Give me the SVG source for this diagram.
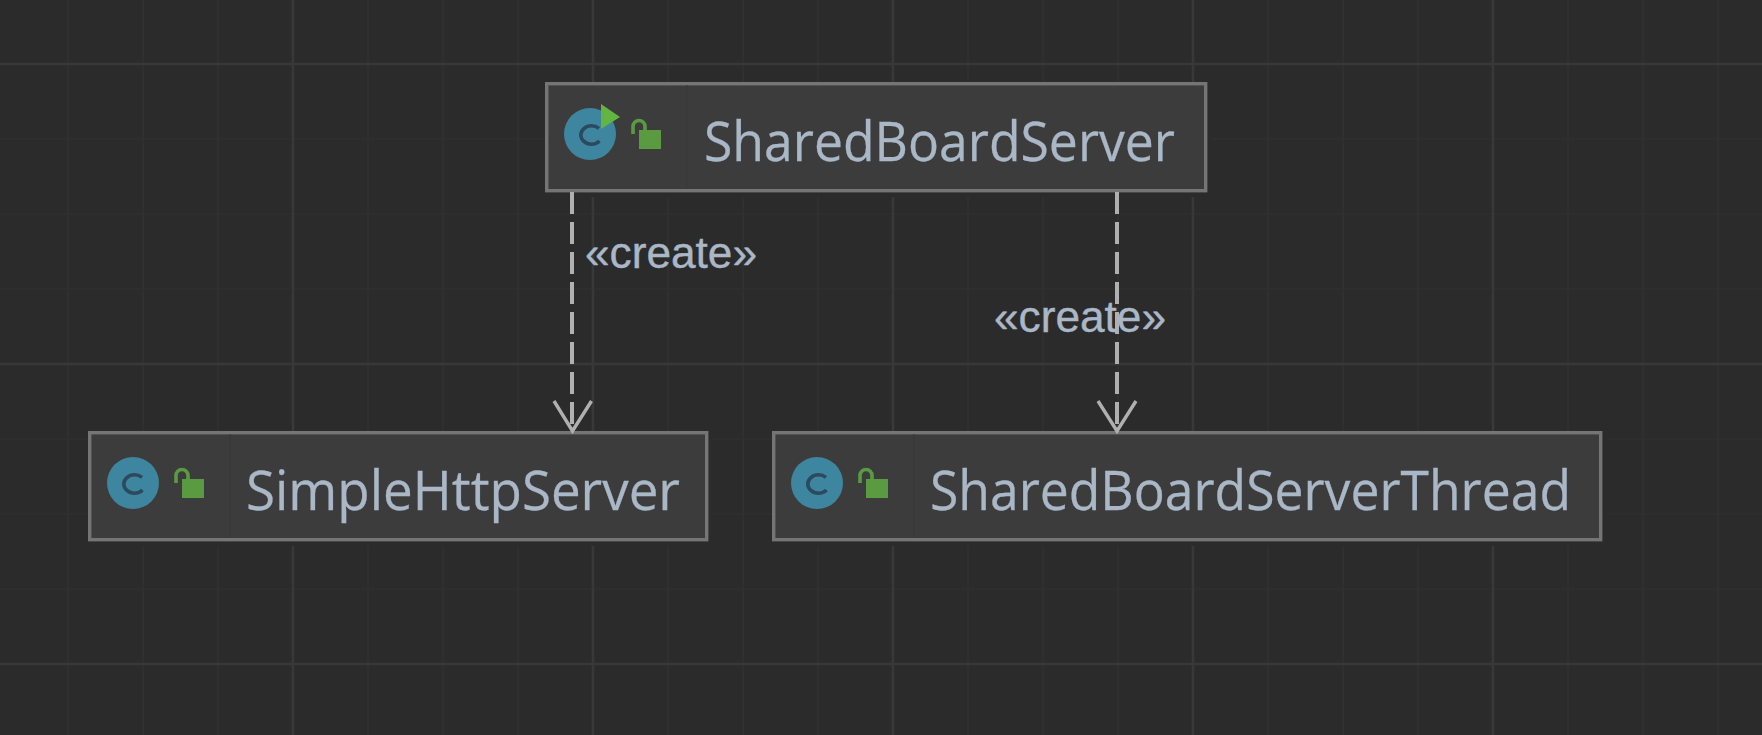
<svg xmlns="http://www.w3.org/2000/svg" xmlns:xlink="http://www.w3.org/1999/xlink" width="1762" height="735" viewBox="0 0 1762 735">
<style>
.minor{stroke:#313131;stroke-width:1.6;fill:none}
.major{stroke:#383838;stroke-width:2.6;fill:none}
.halo{fill:#2b2b2b}
.box{fill:#3c3c3c;stroke:#757575;stroke-width:3.4}
.sep{stroke:#393939;stroke-width:1.2}
.name{font-family:"Open Sans","Noto Sans","Liberation Sans",sans-serif;font-size:55px;fill:#a9b7c6;stroke:#a9b7c6;stroke-width:0.3}
.lbl{font-family:"Liberation Sans",Arial,sans-serif;font-size:44px;fill:#a9b7c6;stroke:#a9b7c6;stroke-width:0.4}
.dash{stroke:#b0b0b0;stroke-width:4;stroke-dasharray:22 8;fill:none}
.head{stroke:#b0b0b0;stroke-width:3.4;fill:none}
</style>
<defs>
<g id="classIcon">
<circle cx="0" cy="0" r="26" fill="#3e86a0"/>
<path d="M9 -5.600C7 -7.200 4.500 -8.200 1.500 -8.200C-4.500 -8.200 -9.200 -3.800 -9.200 1C-9.200 5.800 -4.500 10.200 1.500 10.200C4.500 10.200 7.500 9 9.500 7" fill="none" stroke="#2c4a5e" stroke-width="3.6"/>
</g>
<g id="lockIcon">
<rect x="0" y="0" width="22" height="19" fill="#5a9a40"/>
<path d="M-6 4V-3.500A6 6 0 0 1 6 -3.500V0" fill="none" stroke="#5a9a40" stroke-width="3.6"/>
</g>
</defs>
<rect id="background" width="1762" height="735" fill="#2b2b2b"/>
<g id="grid">
<path class="minor" d="M68 0V735M143 0V735M218 0V735M368 0V735M443 0V735M518 0V735M668 0V735M743 0V735M818 0V735M968 0V735M1043 0V735M1118 0V735M1268 0V735M1343 0V735M1418 0V735M1568 0V735M1643 0V735M1718 0V735"/>
<path class="minor" d="M0 139H1762M0 214H1762M0 289H1762M0 439H1762M0 514H1762M0 589H1762"/>
<path class="major" d="M293 0V735M593 0V735M893 0V735M1193 0V735M1493 0V735M0 64H1762M0 364H1762M0 664H1762"/>
</g>
<g id="node-SharedBoardServer">
<rect class="halo" x="545" y="82" width="666" height="115"/>
<rect class="box" x="546.700" y="83.700" width="659" height="107"/>
<path class="sep" d="M687 85V189"/>
<use xlink:href="#classIcon" href="#classIcon" x="590" y="134"/>
<path d="M601 104L620 117L601 129Z" fill="#62b543"/>
<use xlink:href="#lockIcon" href="#lockIcon" x="639" y="130"/>
<text class="name" x="704" y="161" textLength="471" lengthAdjust="spacingAndGlyphs">SharedBoardServer</text>
</g>
<g id="node-SimpleHttpServer">
<rect class="halo" x="88" y="431" width="625" height="115"/>
<rect class="box" x="89.700" y="432.700" width="617" height="107"/>
<path class="sep" d="M230 434V538"/>
<use xlink:href="#classIcon" href="#classIcon" x="133" y="483"/>
<use xlink:href="#lockIcon" href="#lockIcon" x="182" y="479"/>
<text class="name" x="246" y="510" textLength="434" lengthAdjust="spacingAndGlyphs">SimpleHttpServer</text>
</g>
<g id="node-SharedBoardServerThread">
<rect class="halo" x="772" y="431" width="835" height="115"/>
<rect class="box" x="773.700" y="432.700" width="827" height="107"/>
<path class="sep" d="M914 434V538"/>
<use xlink:href="#classIcon" href="#classIcon" x="817" y="483"/>
<use xlink:href="#lockIcon" href="#lockIcon" x="866" y="479"/>
<text class="name" x="930" y="510" textLength="641" lengthAdjust="spacingAndGlyphs">SharedBoardServerThread</text>
</g>
<g id="connectors">
<path class="dash" d="M572 192V430"/>
<path class="head" d="M554 401L572.500 431L591.500 401"/>
<path class="dash" d="M1117 192V430"/>
<path class="head" d="M1098 401L1117 431L1136 401"/>
</g>
<g id="labels">
<text class="lbl" x="585" y="268" textLength="172" lengthAdjust="spacingAndGlyphs">«create»</text>
<text class="lbl" x="994" y="332" textLength="172" lengthAdjust="spacingAndGlyphs">«create»</text>
</g>
</svg>
